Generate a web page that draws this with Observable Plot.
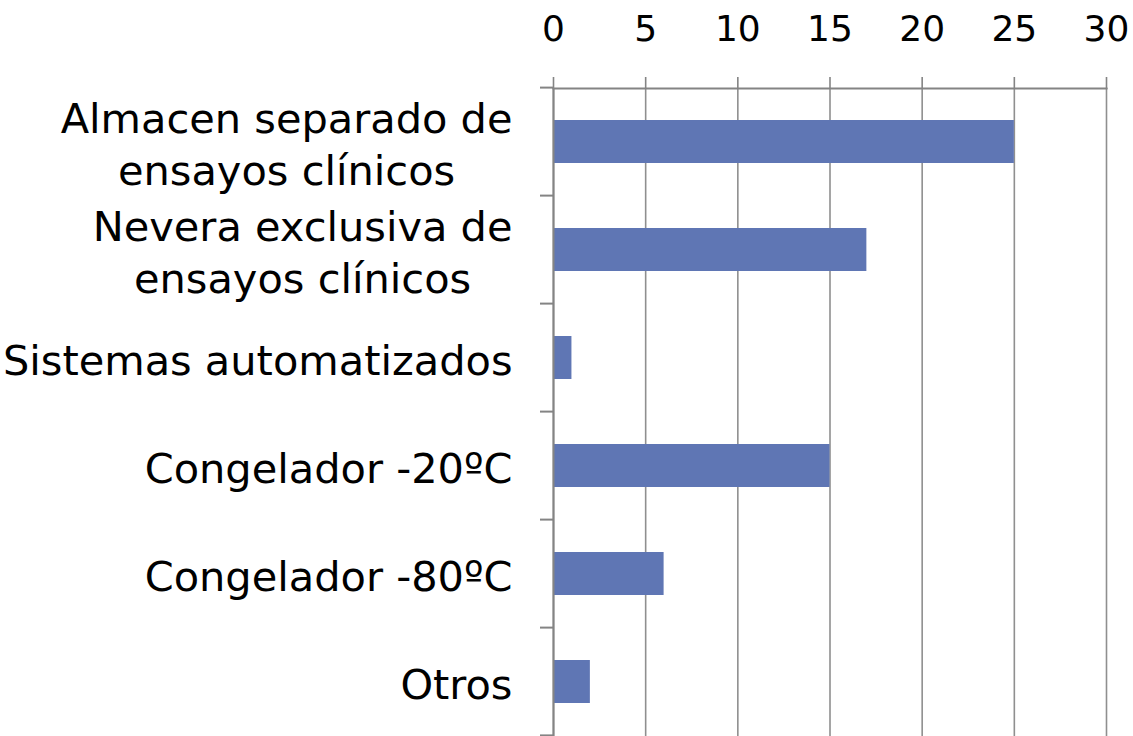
<!DOCTYPE html>
<html><head><meta charset="utf-8">
<script src="https://cdn.jsdelivr.net/npm/d3@7"></script>
<script src="https://cdn.jsdelivr.net/npm/@observablehq/plot@0.6"></script>
<style>body{margin:0;background:#fff}</style>
</head><body><div id="chart"></div>
<script>
const categories = ["Almacen separado de\nensayos clínicos", "Nevera exclusiva de\nensayos clínicos", "Sistemas automatizados", "Congelador -20ºC", "Congelador -80ºC", "Otros"];
const values = [25, 17, 1, 15, 6, 2];
const xTicks = [0, 5, 10, 15, 20, 25, 30];

const data = categories.map((c, i) => ({cat: c, value: values[i]}));
const axisGray = "#848484";

const chart = Plot.plot({
  width: 1133, height: 736,
  marginTop: 88, marginBottom: 0, marginLeft: 553, marginRight: 27,
  style: {fontFamily: "DejaVu Sans", fontSize: "38px", color: "#000", background: "#fff"},
  x: {domain: [0, 30], ticks: xTicks},
  y: {domain: categories, paddingInner: 0.6, paddingOuter: 0.3},
  marks: [
    Plot.gridX(xTicks, {stroke: "#8f8f8f", strokeOpacity: 1, strokeWidth: 1.6}),
    Plot.barX(data, {x: "value", y: "cat", fill: "#5f76b4"}),
    Plot.ruleX([0], {stroke: axisGray, strokeWidth: 2}),
    Plot.frame({anchor: "top", stroke: axisGray, strokeWidth: 2, strokeOpacity: 1}),
    Plot.axisX(xTicks, {anchor: "top", tickSize: 12, tickPadding: 36, stroke: axisGray, strokeWidth: 1.6, strokeOpacity: 1, fontSize: 36, label: null}),
    Plot.axisY({tickSize: 0, tickPadding: 41, fontSize: 41.5, lineHeight: 1.25, label: null})
  ]
});
document.getElementById("chart").appendChild(chart);

// category boundary ticks on the y axis, from the library's band scale
const ys = chart.scale("y"), xs = chart.scale("x");
const x0 = xs.apply(0);
const half = ys.step * ys.paddingInner / 2;
const bounds = categories.map(c => ys.apply(c) - half);
bounds.push(ys.apply(categories[categories.length - 1]) + ys.bandwidth + half);
d3.select(chart).append("g")
  .selectAll("line").data(bounds).join("line")
  .attr("x1", x0 - 13).attr("x2", x0)
  .attr("y1", d => d).attr("y2", d => d)
  .attr("stroke", axisGray).attr("stroke-width", 2);

// center lines of multi-line labels within their block (like the original)
d3.select(chart).selectAll('g[aria-label="y-axis tick label"] text').each(function() {
  const tspans = this.querySelectorAll("tspan");
  if (tspans.length < 2) return;
  let w = 0;
  tspans.forEach(t => { w = Math.max(w, t.getComputedTextLength()); });
  this.setAttribute("text-anchor", "middle");
  tspans.forEach(t => t.setAttribute("x", -w / 2));
});
</script>
</body></html>
